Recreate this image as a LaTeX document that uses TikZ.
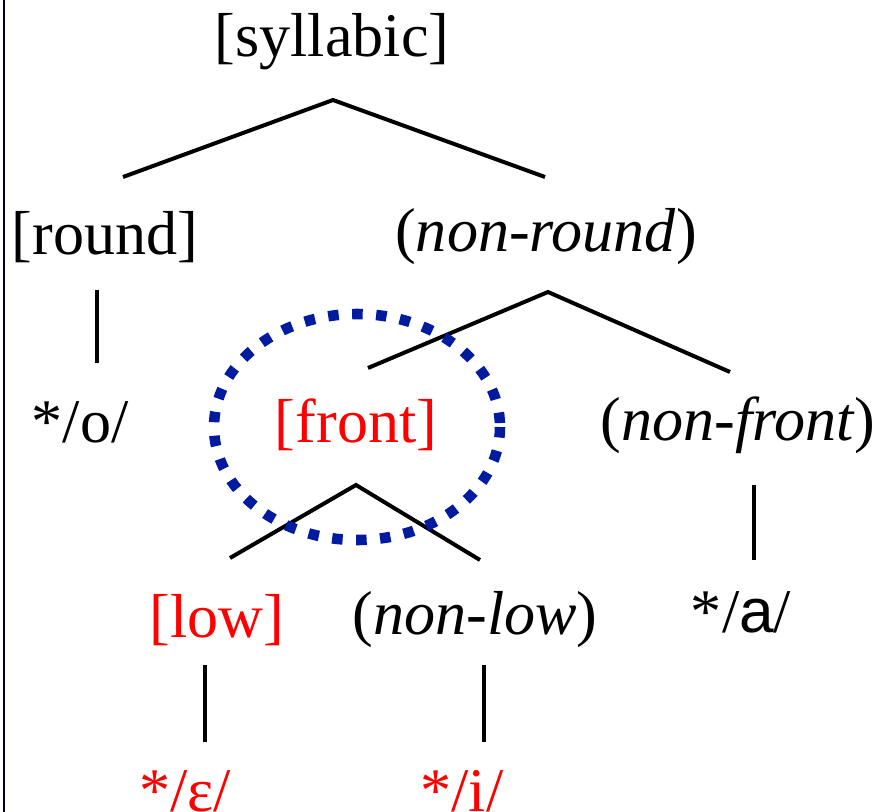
\documentclass[tikz,border=0pt]{standalone}
\usepackage{fontspec}
\setmainfont{Liberation Serif}
\newfontfamily\arialfont{Liberation Sans}
\usepackage{xcolor}
\usetikzlibrary{calc}
\definecolor{ringblue}{RGB}{0,26,160}

\tikzset{
  feat/.style={inner sep=0pt, font=\fontsize{53}{60}\selectfont},
  hot/.style={feat, text=red},
  branch/.style={line width=3.4pt},
  ring/.style={ringblue, line width=9pt, dash pattern=on 9pt off 11.5pt}
}

\begin{document}
\begin{tikzpicture}[x=0.03cm, y=-0.03cm]
  \useasboundingbox (0,0) rectangle (882,812);
  % frame edge on the left
  \draw[line width=1.8pt, black!85!blue] (4,0) -- (4,812);

  % nodes
  \node[feat] (syl) at (332,42) {[syllabic]};
  \node[feat] (round) at (105,237) {[round]};
  \node[feat] (nonround) at (546,237) {(\textit{non-round})};
  \node[feat] (o) at (80,422) {*/o/};
  \node[hot] (front) at (356,425) {[front]};
  \node[feat] (nonfront) at (738,425) {(\textit{non-front})};
  \node[hot] (low) at (217,620) {[low]};
  \node[feat] (nonlow) at (475,620) {(\textit{non-low})};
  \node[feat] (a) at (741,612) {*/{\arialfont a}/};
  \node[hot] (eps) at (185,791) {*/ɛ/};
  \node[hot] (i) at (462,791) {*/i/};

  % branches
  \draw[branch] ($(round)+(18,-60)$) -- ($(syl)+(1,58)$) -- ($(nonround)+(-1,-60)$);
  \draw[branch] ($(round)+(-8,53)$) -- ($(o)+(17,-59)$);
  \draw[branch] ($(front)+(12,-57)$) -- ($(nonround)+(2,55)$) -- ($(nonfront)+(-8,-53)$);
  \draw[branch] ($(low)+(13,-62)$) -- ($(front)+(0,60)$) -- ($(nonlow)+(5,-60)$);
  \draw[branch] ($(nonfront)+(16,60)$) -- ($(a)+(13,-52)$);
  \draw[branch] ($(low)+(-12,45)$) -- ($(eps)+(20,-49)$);
  \draw[branch] ($(nonlow)+(9,45)$) -- ($(i)+(22,-49)$);

  % dotted ring round [front]
  \draw[ring] ($(front)+(1,2)$) ellipse [x radius=143, y radius=113];
\end{tikzpicture}
\end{document}
